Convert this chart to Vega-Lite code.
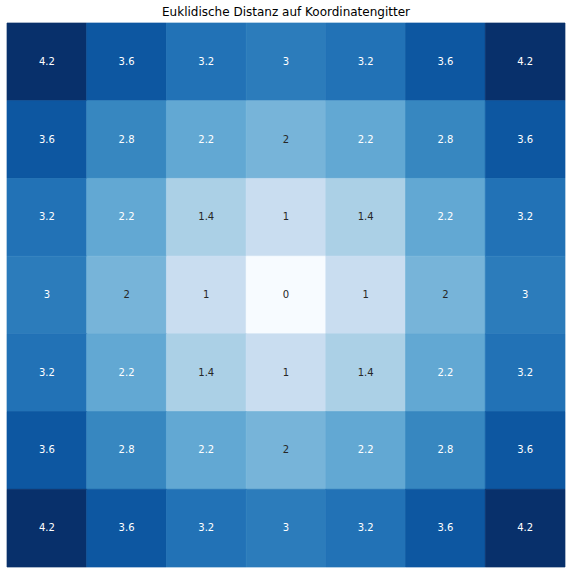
{
  "$schema": "https://vega.github.io/schema/vega-lite/v6.json",
  "width": 558,
  "height": 544,
  "autosize": {"type": "none"},
  "padding": {"left": 7, "top": 23, "right": 7, "bottom": 7},
  "background": "white",
  "config": {"view": {"stroke": null}},
  "title": {"text": "Euklidische Distanz auf Koordinatengitter", "font": "DejaVu Sans", "fontSize": 12, "fontWeight": "normal", "color": "black", "anchor": "middle", "offset": 4},
  "data": {"values": [
    {"c": 0, "r": 0, "d": 4.2426}, {"c": 1, "r": 0, "d": 3.6056}, {"c": 2, "r": 0, "d": 3.1623}, {"c": 3, "r": 0, "d": 3}, {"c": 4, "r": 0, "d": 3.1623}, {"c": 5, "r": 0, "d": 3.6056}, {"c": 6, "r": 0, "d": 4.2426},
    {"c": 0, "r": 1, "d": 3.6056}, {"c": 1, "r": 1, "d": 2.8284}, {"c": 2, "r": 1, "d": 2.2361}, {"c": 3, "r": 1, "d": 2}, {"c": 4, "r": 1, "d": 2.2361}, {"c": 5, "r": 1, "d": 2.8284}, {"c": 6, "r": 1, "d": 3.6056},
    {"c": 0, "r": 2, "d": 3.1623}, {"c": 1, "r": 2, "d": 2.2361}, {"c": 2, "r": 2, "d": 1.4142}, {"c": 3, "r": 2, "d": 1}, {"c": 4, "r": 2, "d": 1.4142}, {"c": 5, "r": 2, "d": 2.2361}, {"c": 6, "r": 2, "d": 3.1623},
    {"c": 0, "r": 3, "d": 3}, {"c": 1, "r": 3, "d": 2}, {"c": 2, "r": 3, "d": 1}, {"c": 3, "r": 3, "d": 0}, {"c": 4, "r": 3, "d": 1}, {"c": 5, "r": 3, "d": 2}, {"c": 6, "r": 3, "d": 3},
    {"c": 0, "r": 4, "d": 3.1623}, {"c": 1, "r": 4, "d": 2.2361}, {"c": 2, "r": 4, "d": 1.4142}, {"c": 3, "r": 4, "d": 1}, {"c": 4, "r": 4, "d": 1.4142}, {"c": 5, "r": 4, "d": 2.2361}, {"c": 6, "r": 4, "d": 3.1623},
    {"c": 0, "r": 5, "d": 3.6056}, {"c": 1, "r": 5, "d": 2.8284}, {"c": 2, "r": 5, "d": 2.2361}, {"c": 3, "r": 5, "d": 2}, {"c": 4, "r": 5, "d": 2.2361}, {"c": 5, "r": 5, "d": 2.8284}, {"c": 6, "r": 5, "d": 3.6056},
    {"c": 0, "r": 6, "d": 4.2426}, {"c": 1, "r": 6, "d": 3.6056}, {"c": 2, "r": 6, "d": 3.1623}, {"c": 3, "r": 6, "d": 3}, {"c": 4, "r": 6, "d": 3.1623}, {"c": 5, "r": 6, "d": 3.6056}, {"c": 6, "r": 6, "d": 4.2426}
  ]},
  "encoding": {
    "x": {"field": "c", "type": "ordinal", "axis": null, "scale": {"paddingInner": 0, "paddingOuter": 0}},
    "y": {"field": "r", "type": "ordinal", "axis": null, "scale": {"paddingInner": 0, "paddingOuter": 0}}
  },
  "layer": [
    {
      "mark": {"type": "rect", "strokeWidth": 0.7},
      "encoding": {
        "color": {"field": "d", "type": "quantitative", "legend": null,
          "scale": {"domain": [0, 0.5303, 1.0607, 1.591, 2.1213, 2.6517, 3.182, 3.7123, 4.2426],
                    "range": ["#f7fbff", "#deebf7", "#c6dbef", "#9ecae1", "#6baed6", "#4292c6", "#2171b5", "#08519c", "#08306b"],
                    "interpolate": "rgb", "clamp": true}},
        "stroke": {"field": "d", "type": "quantitative", "legend": null,
          "scale": {"domain": [0, 0.5303, 1.0607, 1.591, 2.1213, 2.6517, 3.182, 3.7123, 4.2426],
                    "range": ["#f7fbff", "#deebf7", "#c6dbef", "#9ecae1", "#6baed6", "#4292c6", "#2171b5", "#08519c", "#08306b"],
                    "interpolate": "rgb", "clamp": true}}
      }
    },
    {
      "mark": {"type": "text", "font": "DejaVu Sans", "fontSize": 10, "baseline": "middle", "align": "center"},
      "encoding": {
        "text": {"field": "d", "type": "quantitative", "format": ".1~f"},
        "color": {"condition": {"test": "datum.d > 2.1", "value": "#ffffff"}, "value": "#262626"}
      }
    }
  ]
}
